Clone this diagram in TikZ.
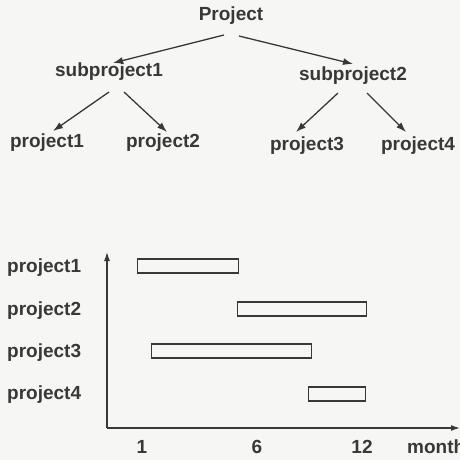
\documentclass[tikz,border=0pt]{standalone}
\usepackage{fontspec}
\setmainfont{Liberation Sans}
\usetikzlibrary{arrows.meta}
\definecolor{ink}{HTML}{383838}
\definecolor{paper}{HTML}{F6F6F4}
\begin{document}
\begin{tikzpicture}[x=1pt,y=-1pt,
  lbl/.style={inner sep=0pt,anchor=base,text=ink,font=\fontsize{19}{22}\selectfont\bfseries},
  rowlbl/.style={lbl,anchor=base west},
  arr/.style={draw=ink,line width=1.3pt,-{Latex[length=10pt,width=7pt]}},
  axis/.style={draw=ink,line width=1.3pt,-{Latex[length=9pt,width=6pt]}},
  bar/.style={draw=ink,line width=1.3pt,inner sep=0pt,minimum height=14pt,anchor=west}]
  % page
  \fill[paper] (0,0) rectangle (460,460);
  \useasboundingbox (0,0) rectangle (460,460);

  % project tree
  \node[lbl] (P)  at (231,21)  {Project};
  \node[lbl] (S1) at (109,76)  {subproject1};
  \node[lbl] (S2) at (353,80)  {subproject2};
  \node[lbl] (T1) at (47,147)  {project1};
  \node[lbl] (T2) at (163,147) {project2};
  \node[lbl] (T3) at (307,150) {project3};
  \node[lbl] (T4) at (418,150) {project4};

  \draw[arr] ([shift={(-7,14)}]P.base)  -- ([shift={(4,-13)}]S1.base);
  \draw[arr] ([shift={(8,15)}]P.base)   -- ([shift={(0,-16)}]S2.base);
  \draw[arr] ([shift={(0,16)}]S1.base)  -- ([shift={(6,-16)}]T1.base);
  \draw[arr] ([shift={(15,16)}]S1.base) -- ([shift={(4,-15)}]T2.base);
  \draw[arr] ([shift={(-15,13)}]S2.base) -- ([shift={(-11,-18)}]T3.base);
  \draw[arr] ([shift={(14,13)}]S2.base) -- ([shift={(-12,-18)}]T4.base);

  % schedule chart
  \coordinate (O) at (107,428);
  \coordinate (Ytop) at (107,252);
  \coordinate (Xend) at (460,428);
  \draw[axis] (O) -- (Ytop);
  \draw[axis] (O) -- (Xend);

  \node[rowlbl] (R1) at (7,272) {project1};
  \node[rowlbl] (R2) at (7,315) {project2};
  \node[rowlbl] (R3) at (7,357) {project3};
  \node[rowlbl] (R4) at (7,399) {project4};

  \node[bar,minimum width=101pt] (B1) at (137,266) {};
  \node[bar,minimum width=129pt] (B2) at (237,309) {};
  \node[bar,minimum width=160pt] (B3) at (151,351) {};
  \node[bar,minimum width=57pt]  (B4) at (308,394) {};

  \node[lbl] (M1)  at (142,453) {1};
  \node[lbl] (M6)  at (257,453) {6};
  \node[lbl] (M12) at (362,453) {12};
  \node[lbl,anchor=base west] (Mon) at (407,453) {month};
\end{tikzpicture}
\end{document}
